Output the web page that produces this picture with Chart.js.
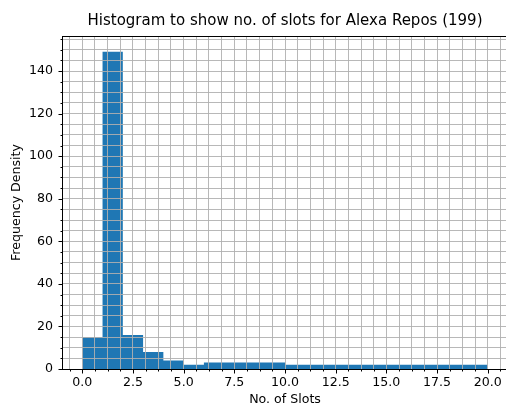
<!DOCTYPE html>
<html>
<head>
<meta charset="utf-8">
<script src="https://cdn.jsdelivr.net/npm/chart.js@4/dist/chart.umd.min.js"></script>
<style>
  html, body { margin: 0; padding: 0; background: #fff; overflow: hidden; width: 506px; height: 408px; }
  canvas { display: block; }
</style>
</head>
<body>
<canvas id="hist" width="570" height="408"></canvas>
<script>
// Histogram bins (unequal widths) and the number of repos in each
const binEdges = [0, 1, 2, 3, 4, 5, 6, 10, 20];
const binCounts = [15, 149, 16, 8, 4, 2, 3, 2];

// Axis ticks
const xMajorTicks = [0, 2.5, 5, 7.5, 10, 12.5, 15, 17.5, 20];
const xTickLabels = ['0.0', '2.5', '5.0', '7.5', '10.0', '12.5', '15.0', '17.5', '20.0'];
const yMajorTicks = [0, 20, 40, 60, 80, 100, 120, 140];
const yTickLabels = ['0', '20', '40', '60', '80', '100', '120', '140'];

const X_MIN = -1, X_MAX = 21;
const Y_MIN = 0, Y_MAX = Math.max(...binCounts) * 1.05;

// Each count holds from its bin's left edge to the next edge
const histPoints = binCounts.map((c, i) => ({ x: binEdges[i], y: c }));
histPoints.push({ x: binEdges[binEdges.length - 1], y: binCounts[binCounts.length - 1] });

// Major ticks plus four minor divisions between them, kept inside the axis range
function tickSet(majors, min, max) {
  const step = (majors[1] - majors[0]) / 4;
  const out = [];
  const first = Math.ceil((min - majors[0]) / step);
  const last = Math.floor((max - majors[0]) / step);
  for (let i = first; i <= last; i++) {
    const v = +(majors[0] + i * step).toFixed(6);
    out.push({ value: v, major: majors.some(m => Math.abs(m - v) < 1e-6) });
  }
  return out;
}

function labelFor(majors, labels, v) {
  const i = majors.findIndex(m => Math.abs(m - v) < 1e-6);
  return i >= 0 ? labels[i] : '';
}

const FONT = "'DejaVu Sans', sans-serif";
const GRID = '#b0b0b0';
const LABEL_SIZE = 12.6;

// Black frame around the plot area with outward tick marks
const axesFrame = {
  id: 'axesFrame',
  afterDraw(chart) {
    const { ctx, chartArea: a, scales: { x, y } } = chart;
    ctx.save();
    ctx.strokeStyle = '#000';
    ctx.lineWidth = 1;
    ctx.beginPath();
    const bottom = Math.floor(a.bottom) + 0.5;
    const left = Math.round(a.left) + 0.5;
    x.ticks.forEach(t => {
      const px = Math.round(x.getPixelForValue(t.value)) + 0.5;
      ctx.moveTo(px, bottom);
      ctx.lineTo(px, bottom + (t.major ? 4 : 2));
    });
    y.ticks.forEach(t => {
      const py = Math.round(y.getPixelForValue(t.value)) + 0.5;
      ctx.moveTo(left, py);
      ctx.lineTo(left - (t.major ? 4 : 2), py);
    });
    ctx.stroke();
    ctx.strokeRect(left, Math.round(a.top) + 0.5, Math.round(a.right) - Math.round(a.left), bottom - Math.round(a.top) - 0.5);
    ctx.restore();
  }
};

new Chart(document.getElementById('hist'), {
  type: 'line',
  data: {
    datasets: [{
      label: 'Repos',
      data: histPoints,
      stepped: 'before',
      fill: 'origin',
      backgroundColor: '#1f77b4',
      borderColor: 'rgba(0,0,0,0)',
      borderWidth: 0,
      pointRadius: 0,
      pointHoverRadius: 0
    }]
  },
  options: {
    responsive: false,
    animation: false,
    devicePixelRatio: 1,
    events: [],
    layout: { padding: 0 },
    plugins: {
      legend: { display: false },
      tooltip: { enabled: false },
      title: {
        display: true,
        text: 'Histogram to show no. of slots for Alexa Repos (199)',
        color: '#000',
        font: { family: FONT, size: 15, weight: 'normal' },
        padding: { top: 12, bottom: 6 }
      }
    },
    scales: {
      x: {
        type: 'linear',
        min: X_MIN,
        max: X_MAX,
        afterBuildTicks: s => { s.ticks = tickSet(xMajorTicks, X_MIN, X_MAX); },
        afterFit: s => { s.height = 39; },
        grid: { z: 1, color: GRID, lineWidth: 0.9, drawTicks: false },
        border: { display: false },
        ticks: {
          autoSkip: false,
          maxRotation: 0,
          padding: 6.4,
          color: '#000',
          font: { family: FONT, size: LABEL_SIZE },
          callback: v => labelFor(xMajorTicks, xTickLabels, v)
        },
        title: {
          display: true,
          text: 'No. of Slots',
          color: '#000',
          font: { family: FONT, size: LABEL_SIZE },
          padding: { top: 0, bottom: 1 }
        }
      },
      y: {
        type: 'linear',
        min: Y_MIN,
        max: Y_MAX,
        afterBuildTicks: s => { s.ticks = tickSet(yMajorTicks, Y_MIN, Y_MAX); },
        afterFit: s => { s.width = 62; },
        grid: { z: 1, color: GRID, lineWidth: 0.9, drawTicks: false },
        border: { display: false },
        ticks: {
          autoSkip: false,
          padding: 9,
          color: '#000',
          font: { family: FONT, size: LABEL_SIZE },
          callback: v => labelFor(yMajorTicks, yTickLabels, v)
        },
        title: {
          display: true,
          text: 'Frequency Density',
          color: '#000',
          font: { family: FONT, size: LABEL_SIZE },
          padding: { top: 9, bottom: 0 }
        }
      },
      // empty right-hand strip, same width as the y axis, so the title centres over the plot
      yRight: {
        type: 'linear',
        position: 'right',
        min: Y_MIN,
        max: Y_MAX,
        afterFit: s => { s.width = 62; },
        grid: { display: false, drawTicks: false },
        border: { display: false },
        ticks: { display: false }
      }
    }
  },
  plugins: [axesFrame]
});
</script>
</body>
</html>
